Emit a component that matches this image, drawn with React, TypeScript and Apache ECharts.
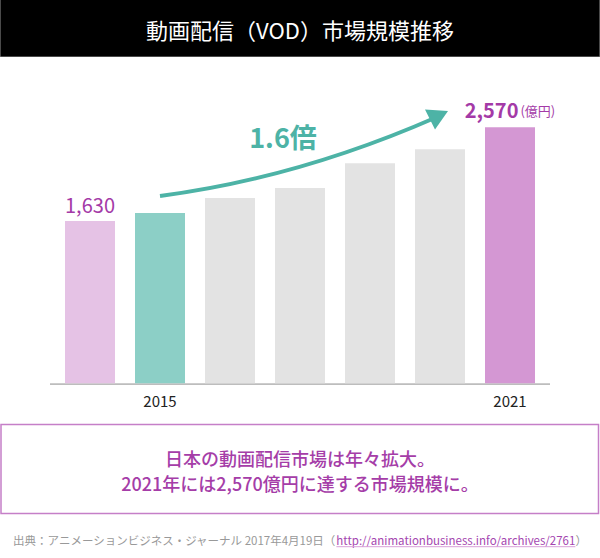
import React, { useEffect, useRef } from "react";
import * as echarts from "echarts";

const title = "動画配信（VOD）市場規模推移";
const barKeys = ["b1", "b2", "b3", "b4", "b5", "b6", "b7"];
const tickLabels = ["", "2015", "", "", "", "", "2021"];
const values = [1630, 1710, 1860, 1960, 2210, 2350, 2570];
const barColors = ["#E5C2E5", "#8CCFC6", "#E3E3E3", "#E3E3E3", "#E3E3E3", "#E3E3E3", "#D497D3"];
const labelledBars = [0, 6];
const unitText = "(億円)";
const growthText = "1.6倍";
const summaryLines = ["日本の動画配信市場は年々拡大。", "2021年には2,570億円に達する市場規模に。"];
const sourcePrefix = "出典：アニメーションビジネス・ジャーナル 2017年4月19日（";
const sourceLink = "http://animationbusiness.info/archives/2761";
const sourceSuffix = "）";

const FONT = '"Noto Sans CJK JP", "Noto Sans", sans-serif';
const PURPLE = "#A43AA7";
const TEAL = "#4DB3A6";

function measure(text: string, size: number): number {
  const c = document.createElement("canvas").getContext("2d");
  if (!c) return text.length * size * 0.6;
  c.font = `${size}px "Noto Sans CJK JP"`;
  return c.measureText(text).width;
}

export default function App() {
  const ref = useRef<HTMLDivElement>(null);
  useEffect(() => {
    document.body.style.margin = "0";
    if (!ref.current) return;
    const chart = echarts.init(ref.current, undefined, { renderer: "svg" });

    const fmt = (v: number) => v.toLocaleString("en-US");
    const data = values.map((v, i) => {
      const item: any = { value: v, itemStyle: { color: barColors[i] } };
      if (labelledBars.includes(i)) {
        if (i === values.length - 1) {
          item.label = {
            show: true,
            position: "top",
            distance: 8,
            formatter: `{a|${fmt(v)}}{b|${unitText}}`,
            rich: {
              a: { fontSize: 20, fontWeight: "bold", color: PURPLE, fontFamily: FONT },
              b: { fontSize: 13, color: PURPLE, fontFamily: FONT, padding: [2, 0, 0, 2] },
            },
          };
        } else {
          item.label = {
            show: true,
            position: "top",
            distance: 6,
            formatter: fmt(v),
            fontSize: 20,
            color: PURPLE,
            fontFamily: FONT,
          };
        }
      }
      return item;
    });

    const srcSize = 11.5;
    const wPre = measure(sourcePrefix, srcSize);
    const wLink = measure(sourceLink, srcSize);
    const wSuf = measure(sourceSuffix, srcSize);
    const total = wPre + wLink + wSuf;
    const sx = 300 - total / 2;
    const sy = 540;

    chart.setOption({
      animation: false,
      grid: { left: 55, right: 55, top: 84.5, bottom: 174.7 },
      xAxis: {
        type: "category",
        data: barKeys,
        axisLine: { show: false },
        axisTick: { show: false },
        axisLabel: {
          interval: 0,
          margin: 10,
          fontSize: 15,
          color: "#222",
          fontFamily: FONT,
          formatter: (_v: string, i: number) => tickLabels[i],
        },
      },
      yAxis: { type: "value", min: 0, max: 3000, show: false, splitLine: { show: false } },
      series: [
        {
          type: "bar",
          data,
          barWidth: 50,
          silent: true,
        },
      ],
      graphic: [
        {
          type: "rect",
          shape: { x: 0.5, y: -1, width: 599, height: 57.5 },
          style: { fill: "#000", stroke: "#4a4a4a", lineWidth: 1 },
        },
        {
          type: "text",
          x: 300,
          y: 29,
          style: {
            text: title,
            fill: "#fff",
            fontSize: 22,
            fontFamily: FONT,
            textAlign: "center",
            textVerticalAlign: "middle",
          },
        },
        {
          type: "line",
          shape: { x1: 50, y1: 384.2, x2: 550, y2: 384.2 },
          style: { stroke: "#BDBDBD", lineWidth: 1.8 },
        },
        {
          type: "bezierCurve",
          shape: { x1: 160, y1: 196, x2: 437, y2: 117, cpx1: 298, cpy1: 178 },
          style: { stroke: TEAL, lineWidth: 4, fill: null },
        },
        {
          type: "polygon",
          shape: { points: [[448, 111], [425, 109.5], [435, 129.5]] },
          style: { fill: TEAL },
        },
        {
          type: "text",
          x: 283,
          y: 136,
          style: {
            text: growthText,
            fill: TEAL,
            fontSize: 27,
            fontWeight: "bold",
            fontFamily: FONT,
            textAlign: "center",
            textVerticalAlign: "middle",
          },
        },
        {
          type: "rect",
          shape: { x: 1, y: 424.5, width: 597.5, height: 89 },
          style: { fill: "none", stroke: "#C57FC8", lineWidth: 1.5 },
        },
        ...summaryLines.map((t, i) => ({
          type: "text",
          x: 300,
          y: 458 + i * 25,
          style: {
            text: t,
            fill: "#A53DA8",
            fontSize: 18,
            fontWeight: 500,
            fontFamily: FONT,
            textAlign: "center",
            textVerticalAlign: "middle",
          },
        })),
        {
          type: "text",
          x: sx,
          y: sy,
          style: {
            text: sourcePrefix,
            fill: "#999",
            fontSize: srcSize,
            fontFamily: FONT,
            textAlign: "left",
            textVerticalAlign: "middle",
          },
        },
        {
          type: "text",
          x: sx + wPre,
          y: sy,
          style: {
            text: sourceLink,
            fill: "#A546B0",
            fontSize: srcSize,
            fontFamily: FONT,
            textAlign: "left",
            textVerticalAlign: "middle",
          },
        },
        {
          type: "line",
          shape: { x1: sx + wPre, y1: 546.7, x2: sx + wPre + wLink, y2: 546.7 },
          style: { stroke: "#D9A0D9", lineWidth: 1 },
        },
        {
          type: "text",
          x: sx + wPre + wLink,
          y: sy,
          style: {
            text: sourceSuffix,
            fill: "#999",
            fontSize: srcSize,
            fontFamily: FONT,
            textAlign: "left",
            textVerticalAlign: "middle",
          },
        },
      ],
    });
    return () => chart.dispose();
  }, []);
  return <div ref={ref} style={{ width: 600, height: 558 }} />;
}
